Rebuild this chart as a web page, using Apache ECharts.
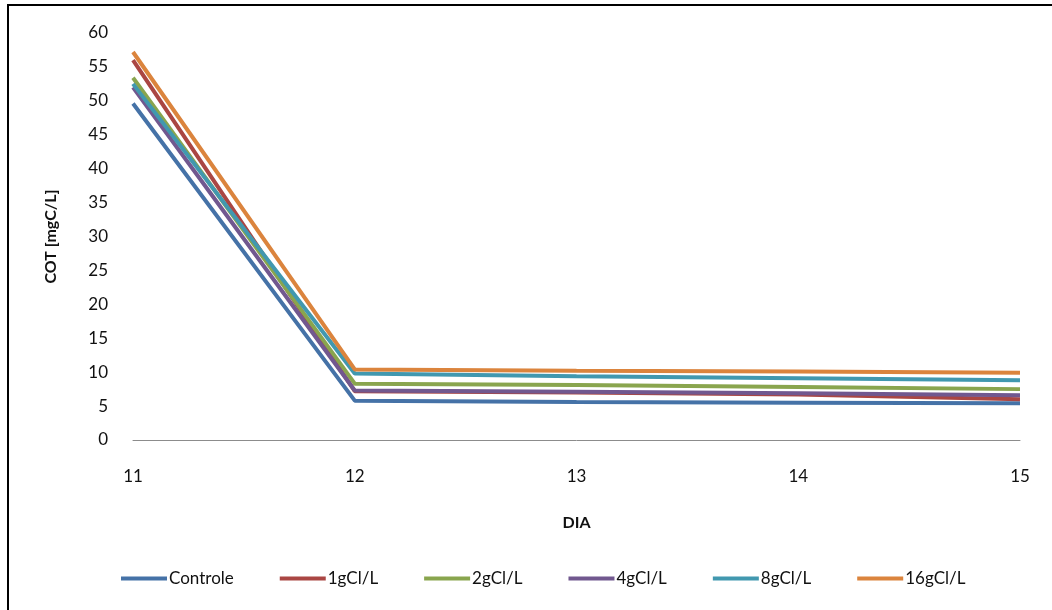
<!DOCTYPE html>
<html>
<head>
<meta charset="utf-8">
<title>COT por dia</title>
<script src="https://cdn.jsdelivr.net/npm/echarts@6/dist/echarts.min.js"></script>
<style>
  html, body { margin: 0; padding: 0; background: #ffffff; }
  #chart { width: 1052px; height: 610px; }
</style>
</head>
<body>
<div id="chart"></div>
<script>
// Days of sampling
const dias = ['11', '12', '13', '14', '15'];

// Total organic carbon (mgC/L) per treatment
const controle = [49.6, 5.8, 5.6, 5.5, 5.4];
const g1 = [56.0, 7.2, 7.0, 6.7, 6.0];
const g2 = [53.4, 8.3, 8.1, 7.8, 7.5];
const g4 = [52.0, 7.3, 7.1, 6.9, 6.6];
const g8 = [52.5, 9.8, 9.4, 9.1, 8.8];
const g16 = [57.2, 10.4, 10.2, 10.1, 9.9];

const seriesNames = ['Controle', '1gCl/L', '2gCl/L', '4gCl/L', '8gCl/L', '16gCl/L'];
const seriesData = [controle, g1, g2, g4, g8, g16];
const colors = ['#4572A7', '#AA4643', '#89A54E', '#71588F', '#4198AF', '#DB843D'];

const font = 'Lato, "Open Sans", sans-serif';

const chart = echarts.init(document.getElementById('chart'), null, { renderer: 'canvas' });

chart.setOption({
  animation: false,
  backgroundColor: '#ffffff',
  color: colors,
  graphic: [{
    type: 'rect',
    shape: { x: 8, y: 5, width: 1200, height: 800 },
    style: { fill: 'none', stroke: '#000000', lineWidth: 2 },
    silent: true
  }],
  grid: { left: 133, right: 32, top: 33, bottom: 170 },
  legend: {
    bottom: 18,
    left: 116,
    itemWidth: 46,
    itemHeight: 4,
    itemGap: 46,
    icon: 'rect',
    textStyle: { fontFamily: font, fontSize: 17, color: '#111111', padding: [0, 0, 0, -3] },
    data: seriesNames
  },
  xAxis: {
    type: 'category',
    data: dias,
    boundaryGap: false,
    name: 'DIA',
    nameLocation: 'middle',
    nameGap: 75,
    nameTextStyle: { fontFamily: font, fontSize: 16, fontWeight: 'bold', color: '#111111' },
    axisLine: { show: true, lineStyle: { color: '#8c8c8c', width: 1 } },
    axisTick: { show: false },
    axisLabel: { fontFamily: font, fontSize: 17, color: '#111111', margin: 28 },
    splitLine: { show: false }
  },
  yAxis: {
    type: 'value',
    min: 0,
    max: 60,
    interval: 5,
    name: 'COT [mgC/L]',
    nameLocation: 'middle',
    nameGap: 74,
    nameRotate: 90,
    nameTextStyle: { fontFamily: font, fontSize: 16, fontWeight: 'bold', color: '#111111' },
    axisLine: { show: false },
    axisTick: { show: false },
    axisLabel: { fontFamily: font, fontSize: 17, color: '#111111', margin: 25 },
    splitLine: { show: false }
  },
  series: seriesNames.map((name, i) => ({
    name: name,
    type: 'line',
    data: seriesData[i],
    symbol: 'none',
    lineStyle: { width: 4, color: colors[i] },
    itemStyle: { color: colors[i] }
  }))
});
</script>
</body>
</html>
